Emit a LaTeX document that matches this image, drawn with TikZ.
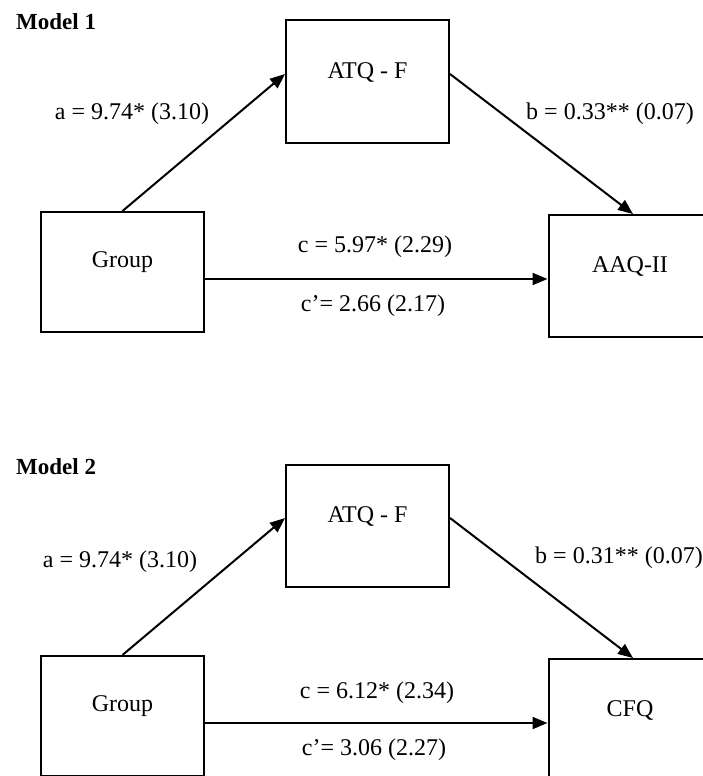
\documentclass[tikz,border=0pt]{standalone}
\usepackage{fontspec}
\setmainfont{Liberation Serif}
\usetikzlibrary{positioning,arrows.meta}

\tikzset{
  varbox/.style={draw,line width=2pt,minimum width=163pt,minimum height=122pt,inner sep=0pt},
  varname/.style={font=\fontsize{24}{28}\selectfont,inner sep=0pt,yshift=9.5pt},
  effect/.style={line width=2pt,-{Triangle[length=15pt,width=12pt]}},
  coef/.style={font=\fontsize{24}{28}\selectfont,inner sep=0pt},
  modeltitle/.style={font=\fontsize{23}{27}\selectfont\bfseries,anchor=base west,inner sep=0pt},
}

\begin{document}
\begin{tikzpicture}[x=1pt,y=-1pt]
  \useasboundingbox (0,0) rectangle (703,776);
  \clip (0,0) rectangle (703,776);

  % Model 1
  \node[modeltitle] (titleA) at (16,30) {Model 1};
  \node[varbox,label={[varname]center:ATQ - F}] (atqA) at (367.5,81.5) {};
  \node[varbox,minimum height=120pt,label={[varname]center:Group}] (grpA) at (122.5,272) {};
  \node[varbox,label={[varname]center:AAQ-II}] (aaq) at (630,276) {};

  \draw[effect] (grpA.north) -- ([yshift=7.5pt]atqA.west);
  \draw[effect] ([yshift=7.5pt]atqA.east) -- ([xshift=3pt]aaq.north);
  \draw[effect] ([yshift=-7pt]grpA.east) coordinate (hA) -- (hA -| aaq.west);

  \node[coef] (aA) at (132,114) {a = 9.74* (3.10)};
  \node[coef] (bA) at (610,114) {b = 0.33** (0.07)};
  \node[coef] (cA) at (375,247) {c = 5.97* (2.29)};
  \node[coef] (cpA) at (373,306) {c’= 2.66 (2.17)};

  % Model 2
  \node[modeltitle] (titleB) at (16,474) {Model 2};
  \node[varbox,label={[varname]center:ATQ - F}] (atqB) at (367.5,525.5) {};
  \node[varbox,minimum height=120pt,label={[varname]center:Group}] (grpB) at (122.5,716) {};
  \node[varbox,label={[varname]center:CFQ}] (cfq) at (630,720) {};

  \draw[effect] (grpB.north) -- ([yshift=7.5pt]atqB.west);
  \draw[effect] ([yshift=7.5pt]atqB.east) -- ([xshift=3pt]cfq.north);
  \draw[effect] ([yshift=-7pt]grpB.east) coordinate (hB) -- (hB -| cfq.west);

  \node[coef] (aB) at (120,562) {a = 9.74* (3.10)};
  \node[coef] (bB) at (619,558) {b = 0.31** (0.07)};
  \node[coef] (cB) at (377,693) {c = 6.12* (2.34)};
  \node[coef] (cpB) at (374,750) {c’= 3.06 (2.27)};
\end{tikzpicture}
\end{document}
